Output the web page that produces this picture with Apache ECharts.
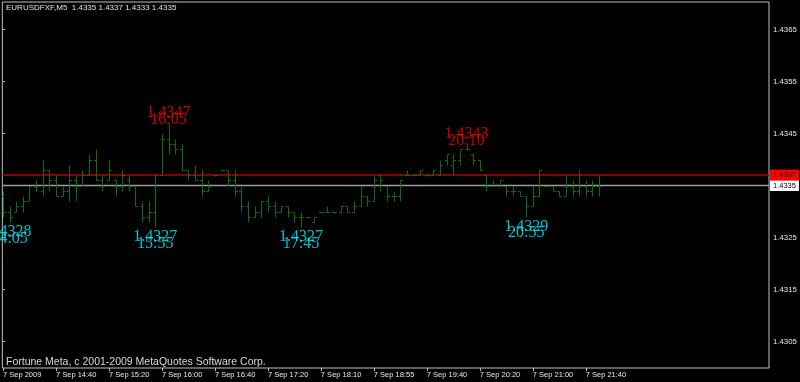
<!DOCTYPE html>
<html><head><meta charset="utf-8">
<script src="https://cdn.jsdelivr.net/npm/echarts@6/dist/echarts.min.js"></script>
<style>html,body{margin:0;padding:0;background:#000}#c{width:800px;height:382px}</style>
</head><body><div id="c"></div>
<script>
const symbolTitle = 'EURUSDFXF,M5  1.4335 1.4337 1.4333 1.4335';
const footerText = 'Fortune Meta, c 2001-2009 MetaQuotes Software Corp.';

const openP = [1.4333,1.4330,1.4330,1.4331,1.4332,1.4335,1.4334,1.4338,1.4336,1.4333,
 1.4334,1.4336,1.4335,1.4337,1.4340,1.4336,1.4336,1.4336,1.4335,1.4336,
 1.4335,1.4331,1.4329,1.4330,1.4337,1.4344,1.4343,1.4342,1.4338,1.4337,
 1.4336,1.4334,1.4337,1.4338,1.4338,1.4336,1.4334,1.4331,1.4329,1.4330,
 1.4332,1.4331,1.4330,1.4331,1.4330,1.4329,1.4329,1.4328,1.4330,1.4330,
 1.4330,1.4330,1.4331,1.4330,1.4331,1.4333,1.4332,1.4337,1.4335,1.4333,
 1.4333,1.4337,1.4337,1.4337,1.4337,1.4337,1.4337,1.4340,1.4339,1.4340,
 1.4342,1.4341,1.4340,1.4337,1.4335,1.4335,1.4335,1.4334,1.4334,1.4333,
 1.4331,1.4333,1.4335,1.4335,1.4334,1.4333,1.4335,1.4334,1.4335,1.4334,1.4335];
const highP = [1.4334,1.4331,1.4332,1.4333,1.4335,1.4336,1.4340,1.4338,1.4337,1.4335,
 1.4339,1.4337,1.4338,1.4341,1.4342,1.4337,1.4340,1.4336,1.4338,1.4337,
 1.4335,1.4332,1.4332,1.4337,1.4345,1.4347,1.4344,1.4343,1.4338,1.4339,
 1.4338,1.4336,1.4337,1.4338,1.4338,1.4338,1.4335,1.4332,1.4331,1.4332,
 1.4333,1.4332,1.4331,1.4331,1.4330,1.4330,1.4329,1.4329,1.4330,1.4331,
 1.4330,1.4331,1.4331,1.4332,1.4335,1.4333,1.4337,1.4337,1.4335,1.4334,
 1.4336,1.4338,1.4337,1.4338,1.4337,1.4338,1.4340,1.4341,1.4341,1.4342,
 1.4343,1.4341,1.4340,1.4337,1.4336,1.4336,1.4335,1.4335,1.4334,1.4333,
 1.4335,1.4338,1.4335,1.4335,1.4334,1.4337,1.4336,1.4338,1.4336,1.4336,1.4337];
const lowP = [1.4329,1.4328,1.4330,1.4330,1.4332,1.4334,1.4333,1.4334,1.4333,1.4333,
 1.4332,1.4332,1.4335,1.4337,1.4336,1.4334,1.4336,1.4333,1.4334,1.4334,
 1.4331,1.4328,1.4328,1.4327,1.4337,1.4341,1.4341,1.4338,1.4336,1.4336,
 1.4333,1.4334,1.4337,1.4338,1.4335,1.4333,1.4330,1.4328,1.4329,1.4329,
 1.4330,1.4329,1.4330,1.4329,1.4328,1.4327,1.4329,1.4328,1.4330,1.4330,
 1.4330,1.4330,1.4330,1.4330,1.4331,1.4331,1.4332,1.4334,1.4332,1.4332,
 1.4332,1.4337,1.4337,1.4337,1.4337,1.4337,1.4337,1.4339,1.4337,1.4339,
 1.4342,1.4339,1.4338,1.4334,1.4335,1.4335,1.4333,1.4333,1.4333,1.4329,
 1.4331,1.4333,1.4335,1.4334,1.4333,1.4333,1.4333,1.4333,1.4333,1.4333,1.4333];
const closeP = [1.4330,1.4329,1.4331,1.4332,1.4335,1.4335,1.4338,1.4336,1.4333,1.4334,
 1.4336,1.4335,1.4337,1.4340,1.4336,1.4335,1.4338,1.4335,1.4337,1.4335,
 1.4331,1.4329,1.4330,1.4337,1.4344,1.4343,1.4342,1.4338,1.4337,1.4336,
 1.4334,1.4335,1.4337,1.4338,1.4336,1.4334,1.4331,1.4329,1.4330,1.4332,
 1.4331,1.4330,1.4331,1.4330,1.4329,1.4329,1.4329,1.4329,1.4330,1.4330,
 1.4330,1.4331,1.4330,1.4331,1.4333,1.4332,1.4336,1.4336,1.4333,1.4333,
 1.4336,1.4337,1.4337,1.4338,1.4337,1.4338,1.4339,1.4341,1.4340,1.4342,
 1.4342,1.4340,1.4338,1.4335,1.4335,1.4336,1.4334,1.4334,1.4333,1.4331,
 1.4333,1.4338,1.4335,1.4334,1.4333,1.4335,1.4334,1.4335,1.4334,1.4335,1.4335];

const xTickIndex = [0,8,16,24,32,40,48,56,64,72,80,88];
const xTickLabels = ['7 Sep 2009','7 Sep 14:40','7 Sep 15:20','7 Sep 16:00','7 Sep 16:40','7 Sep 17:20',
 '7 Sep 18:10','7 Sep 18:55','7 Sep 19:40','7 Sep 20:20','7 Sep 21:00','7 Sep 21:40'];
const yTicks = [1.4305,1.4315,1.4325,1.4335,1.4345,1.4355,1.4365];

const highMarkIdx = [25,70];
const highMarkPrice = [1.4347,1.4343];
const highMarkTime = ['16:05','20:10'];
const lowMarkIdx = [1,23,45,79];
const lowMarkPrice = [1.4328,1.4327,1.4327,1.4329];
const lowMarkTime = ['14:05','15:55','17:45','20:55'];

const askLevel = 1.4337;
const bidLevel = 1.4335;

const X_MIN = -0.0996, X_MAX = 115.67;
const barColor = '#0d6c0d';
const chart = echarts.init(document.getElementById('c'), null, {renderer:'canvas'});

const ohlc = openP.map((o,i)=>[i,o,highP[i],lowP[i],closeP[i]]);

function marks(idx, price, txt, dy, color){
  return {
    type:'scatter', symbolSize:1, itemStyle:{color:'rgba(0,0,0,0)'}, silent:true, z:5,
    data: idx.map((x,k)=>({value:[x,price[k]], label:{formatter: txt[k]}})),
    label:{show:true, position:'inside', offset:[0,dy], color:color,
      fontFamily:'Liberation Serif', fontSize:16}
  };
}

function level(value, lineColor, boxColor, textColor){
  return {
    type:'line', z:2, silent:true, symbol:'none', clip:false,
    data:[[X_MIN, value],[X_MAX, value]],
    lineStyle:{color:lineColor, width:1.5},
    endLabel:{show:true, formatter:value.toFixed(4), distance:1,
      backgroundColor:boxColor, color:textColor, padding:[2,3,1,3],
      fontFamily:'Liberation Sans', fontSize:7.5}
  };
}

chart.setOption({
  animation:false,
  backgroundColor:'#000000',
  grid:{left:2, right:31, top:2, bottom:14, show:true, borderColor:'#c0c0c0', borderWidth:1, backgroundColor:'transparent'},
  xAxis:{
    type:'value', min:X_MIN, max:X_MAX,
    axisLine:{show:false},
    splitLine:{show:false},
    axisTick:{show:true, customValues:xTickIndex, length:3, lineStyle:{color:'#c0c0c0'}},
    axisLabel:{show:true, customValues:xTickIndex, align:'left', margin:3,
      color:'#e8e8e8', fontFamily:'Liberation Sans', fontSize:7.5,
      formatter:v=>xTickLabels[xTickIndex.indexOf(Math.round(v))]}
  },
  yAxis:{
    type:'value', position:'right', min:1.42999, max:1.43703,
    axisLine:{show:false},
    splitLine:{show:false},
    axisTick:{show:true, customValues:yTicks, length:2, lineStyle:{color:'#c0c0c0'}},
    axisLabel:{show:true, customValues:yTicks, margin:4, color:'#e8e8e8',
      fontFamily:'Liberation Sans', fontSize:7.8, formatter:v=>v.toFixed(4)}
  },
  graphic:[
    {type:'text', left:6, top:4, style:{text:symbolTitle, fill:'#e0e0e0', font:'8px "Liberation Sans"'}},
    {type:'text', left:6, top:357, style:{text:footerText, fill:'#d8d8d8', font:'10.5px "Liberation Sans"'}}
  ],
  series:[
    level(bidLevel, '#9a9a9a', '#ffffff', '#000000'),
    level(askLevel, '#b80000', '#ff0000', '#200000'),
    {
      type:'custom', z:3, data:ohlc, encode:{x:0, y:[1,2,3,4]}, clip:true,
      renderItem:function(params, api){
        const x = api.value(0);
        const o = api.coord([x, api.value(1)]);
        const h = api.coord([x, api.value(2)]);
        const l = api.coord([x, api.value(3)]);
        const c = api.coord([x, api.value(4)]);
        const px = Math.round(o[0]) + 0.5;
        let yh = Math.round(h[1]) + 0.5, yl = Math.round(l[1]) + 0.5;
        if (yl - yh < 1) yl = yh + 1;
        const yo = Math.round(o[1]) + 0.5, yc = Math.round(c[1]) + 0.5;
        const st = {stroke:barColor, lineWidth:1};
        return {type:'group', children:[
          {type:'line', shape:{x1:px,y1:yh,x2:px,y2:yl}, style:st},
          {type:'line', shape:{x1:px-2.5,y1:yo,x2:px,y2:yo}, style:st},
          {type:'line', shape:{x1:px,y1:yc,x2:px+2.5,y2:yc}, style:st}
        ]};
      }
    },
    marks(highMarkIdx, highMarkPrice, highMarkPrice.map(p=>p.toFixed(4)), -10, '#ff0000'),
    marks(highMarkIdx, highMarkPrice, highMarkTime, -3, '#ff0000'),
    marks(lowMarkIdx, lowMarkPrice, lowMarkPrice.map(p=>p.toFixed(4)), 10, '#00f0ff'),
    marks(lowMarkIdx, lowMarkPrice, lowMarkTime, 16.5, '#00f0ff')
  ]
});
</script>
</body></html>
